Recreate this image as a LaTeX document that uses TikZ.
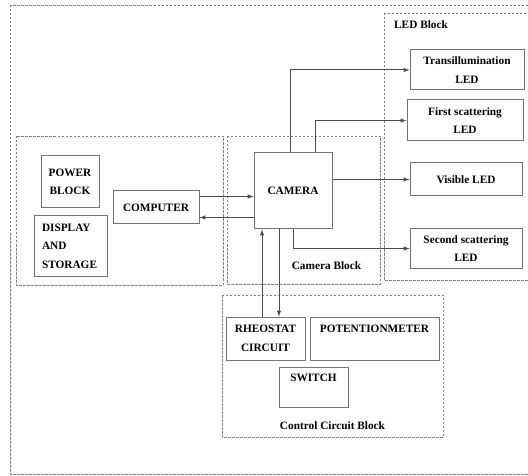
\documentclass[tikz,border=0pt]{standalone}
\usepackage{fontspec}
\setmainfont{Liberation Serif}
\usetikzlibrary{arrows,calc}
\definecolor{BoxClr}{rgb}{0.45,0.45,0.45}
\definecolor{FrameClr}{rgb}{0.5,0.5,0.5}
\definecolor{LineClr}{rgb}{0.3,0.3,0.3}

\begin{document}
\begin{tikzpicture}[x=1pt,y=-1pt,
  blk/.style={draw=BoxClr,line width=1pt,inner sep=2pt,align=center,
    font=\fontsize{11.3}{18.5}\selectfont\bfseries},
  frame/.style={draw=FrameClr,line width=0.9pt,dash pattern=on 2.5pt off 1.5pt},
  arr/.style={draw=LineClr,line width=1pt,-latex},
  lbl/.style={font=\fontsize{11.3}{13}\selectfont\bfseries,inner sep=0pt}]

\useasboundingbox (0,0) rectangle (528,476);
\clip (0,0) rectangle (528,476);

% frames
\draw[frame] (10,5) rectangle (540,474);
\draw[frame] (384,13) rectangle (540,280);
\draw[frame] (16,136) rectangle (223,285);
\draw[frame] (227,136) rectangle (380,284);
\draw[frame] (222,295) rectangle (443,437);

% computer side
\node[blk,minimum width=58,minimum height=52] (power) at (70,182) {POWER\\BLOCK};
\node[blk,minimum width=73,minimum height=60,align=left,text width=57] (disp) at (70.5,246) {DISPLAY\\AND\\STORAGE};
\node[blk,minimum width=86,minimum height=33] (comp) at (156,207.5) {COMPUTER};

% camera
\node[blk,minimum width=78,minimum height=76] (cam) at (293,191) {CAMERA};
\node[lbl] (camlbl) at (326.5,266) {Camera Block};

% LEDs
\node[lbl,anchor=west] (ledlbl) at (394,25) {LED Block};
\node[blk,minimum width=114,minimum height=40] (trans) at (467,70) {Transillumination\\LED};
\node[blk,minimum width=116,minimum height=41] (first) at (465,120.5) {First scattering\\LED};
\node[blk,minimum width=112,minimum height=33] (vis) at (466,179.5) {Visible LED};
\node[blk,minimum width=112,minimum height=39] (second) at (466,248.5) {Second scattering\\LED};

% control circuit
\node[blk,minimum width=79,minimum height=43] (rheo) at (265.5,338.5) {RHEOSTAT\\CIRCUIT};
\node[blk,minimum width=129,minimum height=43] (pot) at (374.5,338.5) {POTENTIONMETER\\\mbox{}};
\node[blk,minimum width=69,minimum height=40] (sw) at (313.5,387) {SWITCH\\\mbox{}};
\node[lbl] (ctllbl) at (332.5,426) {Control Circuit Block};

% connections
\draw[arr] ([yshift=11pt]comp.east) -- ([yshift=11pt]comp.east -| cam.west);
\draw[arr] ([yshift=-10pt]comp.east -| cam.west) -- ([yshift=-10pt]comp.east);
\draw[arr] ([xshift=-3pt]cam.north) |- (trans.west);
\draw[arr] ([xshift=22pt]cam.north) |- (first.west);
\draw[arr] (cam.east |- vis.west) -- (vis.west);
\draw[arr] (cam.south) |- (second.west);
\draw[arr] ([xshift=-3.5pt]rheo.north) -- ([xshift=-3.5pt]rheo.north |- cam.south);
\draw[arr] ([xshift=13.5pt]rheo.north |- cam.south) -- ([xshift=13.5pt]rheo.north);

\end{tikzpicture}
\end{document}
